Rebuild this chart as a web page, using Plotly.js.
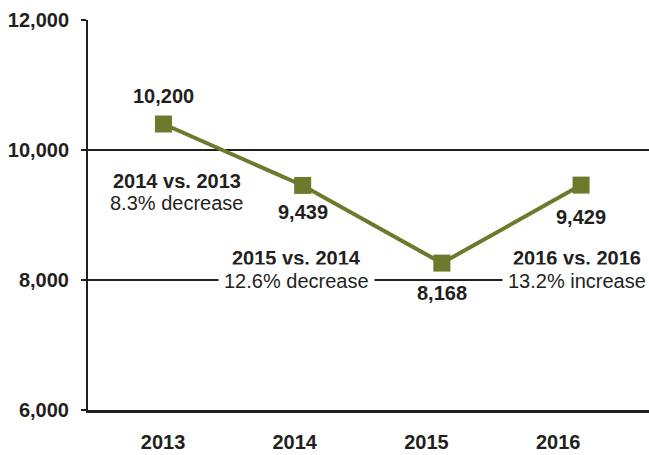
<!DOCTYPE html>
<html>
<head>
<meta charset="utf-8">
<script src="https://cdn.plot.ly/plotly-3.0.1.min.js"></script>
<style>html,body{margin:0;padding:0;background:#fff}#chart{width:649px;height:455px}</style>
</head>
<body>
<div id="chart"></div>
<script>
// ---- data ----
const years = ['2013', '2014', '2015', '2016'];
const visitors = [10400, 9455, 8260, 9460];            // plotted positions
const valueLabels = ['10,200', '9,439', '8,168', '9,429']; // printed labels
const yTicks = [6000, 8000, 10000, 12000];
const compareTitles = ['2014 vs. 2013', '2015 vs. 2014', '2016 vs. 2016'];
const compareNotes = ['8.3% decrease', '12.6% decrease', '13.2% increase'];

// ---- style / layout ----
const FONT = '"Liberation Sans", Arial, sans-serif';
const INK = '#231f20';
const OLIVE = '#6b7a2b';
const labelShift = [28, -27, -30, -32];
const comparePos = [[0.1586, 0.587, 0.5295], [0.3725, 0.3885, 0.3295], [0.871, 0.3885, 0.3295]];

const traces = [
  {
    x: years, y: visitors, xaxis: 'x', yaxis: 'y',
    type: 'scatter', mode: 'lines+markers',
    line: {color: OLIVE, width: 4},
    marker: {symbol: 'square', size: 17, color: OLIVE},
    hoverinfo: 'skip', showlegend: false, cliponaxis: false
  },
  {
    x: years, y: visitors, xaxis: 'x2', yaxis: 'y',
    type: 'scatter', mode: 'markers', marker: {opacity: 0, size: 1},
    hoverinfo: 'skip', showlegend: false
  }
];

const annotations = [];
years.forEach((yr, i) => {
  annotations.push({
    x: i, y: visitors[i], xref: 'x', yref: 'y', text: valueLabels[i],
    showarrow: false, yshift: labelShift[i], xanchor: 'center', yanchor: 'middle',
    font: {family: FONT, size: 20, color: INK, weight: 700}
  });
});
compareTitles.forEach((t, i) => {
  const p = comparePos[i];
  annotations.push({
    x: p[0], y: p[1], xref: 'paper', yref: 'paper', text: t, showarrow: false,
    xanchor: 'center', yanchor: 'middle',
    font: {family: FONT, size: 20, color: INK, weight: 700}
  });
  annotations.push({
    x: p[0], y: p[2], xref: 'paper', yref: 'paper', text: compareNotes[i], showarrow: false,
    xanchor: 'center', yanchor: 'middle', bgcolor: i === 0 ? 'rgba(0,0,0,0)' : '#ffffff', borderpad: 5,
    font: {family: FONT, size: 20, color: INK, weight: 400}
  });
});

const layout = {
  width: 649, height: 455,
  margin: {l: 88, r: 0, t: 20, b: 45},
  paper_bgcolor: '#ffffff', plot_bgcolor: '#ffffff',
  showlegend: false,
  xaxis: {
    type: 'category', range: [-0.542, 3.488],
    showticklabels: false, showgrid: false, zeroline: false, showline: false, ticks: ''
  },
  xaxis2: {
    type: 'category', overlaying: 'x', anchor: 'y', side: 'bottom',
    range: [-0.57, 3.69],
    showgrid: false, zeroline: false, showline: true, linecolor: INK, linewidth: 2.5,
    ticks: '', ticklabelstandoff: 12,
    tickfont: {family: FONT, size: 20, color: INK, weight: 700}
  },
  yaxis: {
    range: [6000, 12000], tickvals: yTicks, tickformat: ',',
    showgrid: true, gridcolor: INK, gridwidth: 1.5,
    zeroline: false, showline: true, linecolor: INK, linewidth: 2,
    ticks: 'outside', ticklen: 5, tickwidth: 1.5, tickcolor: INK,
    ticklabelstandoff: 8,
    tickfont: {family: FONT, size: 20, color: INK, weight: 700}
  },
  annotations: annotations
};

Plotly.newPlot('chart', traces, layout, {staticPlot: true, displayModeBar: false});
</script>
</body>
</html>
